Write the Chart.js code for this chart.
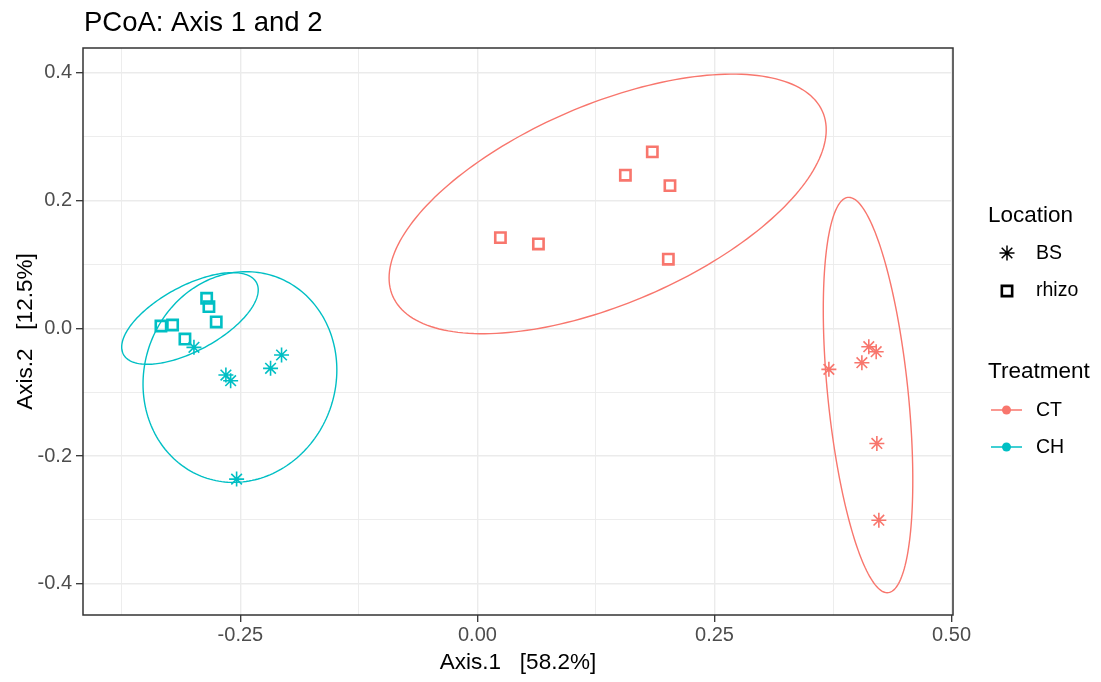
<!DOCTYPE html>
<html>
<head>
<meta charset="utf-8">
<script src="https://cdn.jsdelivr.net/npm/chart.js@4.4.1/dist/chart.umd.min.js"></script>
<style>
    html, body { margin: 0; padding: 0; background: #ffffff; }
    #wrap { position: relative; width: 1101px; height: 682px; }
</style>
</head>
<body>
<div id="wrap"><canvas id="pcoa-chart"></canvas></div>
<script>
// Point coordinates (Axis.1, Axis.2)
const ctBsX = [0.3706, 0.4127, 0.4205, 0.4054, 0.4212, 0.4233];
const ctBsY = [-0.0643, -0.0288, -0.0367, -0.0539, -0.1803, -0.3005];
const ctRhizoX = [0.1844, 0.1560, 0.2030, 0.0242, 0.0643, 0.2013];
const ctRhizoY = [0.2763, 0.2398, 0.2235, 0.1420, 0.1321, 0.1082];
const chBsX = [-0.2990, -0.2653, -0.2603, -0.2182, -0.2066, -0.2540];
const chBsY = [-0.0298, -0.0732, -0.0821, -0.0627, -0.0418, -0.2362];
const chRhizoX = [-0.3338, -0.3215, -0.3085, -0.2856, -0.2832, -0.2755];
const chRhizoY = [0.0036, 0.0052, -0.0168, 0.0470, 0.0339, 0.0099];

// Ellipses: centre, half extent in x and y, and y offset at the x extreme
const ellipseNames = ['CT BS', 'CT rhizo', 'CH BS', 'CH rhizo'];
const ellipseCx = [0.4119, 0.1373, -0.2505, -0.3032];
const ellipseCy = [-0.1045, 0.1948, -0.0763, 0.0154];
const ellipseHx = [0.0472, 0.2305, 0.1022, 0.0720];
const ellipseHy = [0.3096, 0.2033, 0.1650, 0.0718];
const ellipseTilt = [-0.1332, 0.1160, 0.0110, 0.0447];

// Ticks
const xMajor = [-0.25, 0, 0.25, 0.5];
const xMajorLabels = ['-0.25', '0.00', '0.25', '0.50'];
const xMinor = [-0.375, -0.125, 0.125, 0.375];
const yMajor = [-0.4, -0.2, 0, 0.2, 0.4];
const yMajorLabels = ['-0.4', '-0.2', '0.0', '0.2', '0.4'];
const yMinor = [-0.3, -0.1, 0.1, 0.3];

const colCT = '#F8766D';
const colCH = '#00BFC4';
const FONT = '"Liberation Sans", Arial, sans-serif';

function zip(xs, ys) {
    return xs.map(function(x, i) { return { x: x, y: ys[i] }; });
}

function majorIndex(value, majors) {
    for (let i = 0; i < majors.length; i++) {
        if (Math.abs(majors[i] - value) < 1e-9) return i;
    }
    return -1;
}

function setTicks(majors, minors) {
    return function(scale) {
        scale.ticks = majors.concat(minors)
            .sort(function(a, b) { return a - b; })
            .map(function(v) { return { value: v }; });
    };
}

function gridOptions(majors) {
    return {
        color: '#EBEBEB',
        lineWidth: function(c) { return majorIndex(c.tick.value, majors) >= 0 ? 1.4 : 0.9; },
        drawTicks: true,
        tickLength: 7,
        tickWidth: 1.3,
        tickColor: function(c) { return majorIndex(c.tick.value, majors) >= 0 ? '#333333' : 'rgba(0,0,0,0)'; }
    };
}

// Ellipses drawn through the chart scales, under the points
const ellipsePlugin = {
    id: 'ellipses',
    beforeDatasetsDraw: function(chart) {
        const ctx = chart.ctx;
        const xs = chart.scales.x;
        const ys = chart.scales.y;
        const area = chart.chartArea;
        ctx.save();
        ctx.beginPath();
        ctx.rect(area.left, area.top, area.right - area.left, area.bottom - area.top);
        ctx.clip();
        ellipseNames.forEach(function(name, i) {
            const by = Math.sqrt(ellipseHy[i] * ellipseHy[i] - ellipseTilt[i] * ellipseTilt[i]);
            ctx.beginPath();
            for (let s = 0; s <= 200; s++) {
                const t = s / 200 * Math.PI * 2;
                const vx = ellipseCx[i] + ellipseHx[i] * Math.cos(t);
                const vy = ellipseCy[i] + ellipseTilt[i] * Math.cos(t) + by * Math.sin(t);
                const px = xs.getPixelForValue(vx);
                const py = ys.getPixelForValue(vy);
                if (s === 0) ctx.moveTo(px, py); else ctx.lineTo(px, py);
            }
            ctx.closePath();
            ctx.strokeStyle = name.indexOf('CT') === 0 ? colCT : colCH;
            ctx.lineWidth = 1.4;
            ctx.stroke();
        });
        ctx.restore();
    }
};

// Panel border, title and the two legend groups
const framePlugin = {
    id: 'frame',
    afterDraw: function(chart) {
        const ctx = chart.ctx;
        const a = chart.chartArea;
        ctx.save();
        ctx.strokeStyle = '#333333';
        ctx.lineWidth = 1.5;
        ctx.strokeRect(a.left, a.top, a.right - a.left, a.bottom - a.top);

        ctx.fillStyle = '#000000';
        ctx.textAlign = 'left';
        ctx.textBaseline = 'alphabetic';
        ctx.font = '27.5px ' + FONT;
        ctx.fillText('PCoA: Axis 1 and 2', 84, 31);

        ctx.font = '22.5px ' + FONT;
        ctx.fillText('Location', 988, 222);
        ctx.fillText('Treatment', 988, 378);

        ctx.font = '19.5px ' + FONT;
        ctx.textBaseline = 'middle';
        ctx.fillText('BS', 1036, 254);
        ctx.fillText('rhizo', 1036, 291);
        ctx.fillText('CT', 1036, 411);
        ctx.fillText('CH', 1036, 448);

        ctx.strokeStyle = '#000000';
        ctx.fillStyle = 'rgba(0,0,0,0)';
        Chart.helpers.drawPoint(ctx, { pointStyle: 'star', radius: 7.5, borderWidth: 1.6, rotation: 0 }, 1007, 253);
        ctx.lineWidth = 2.6;
        Chart.helpers.drawPoint(ctx, { pointStyle: 'rect', radius: 7.3, borderWidth: 2.6, rotation: 0 }, 1007, 291);

        [[colCT, 410], [colCH, 447]].forEach(function(item) {
            ctx.strokeStyle = item[0];
            ctx.fillStyle = item[0];
            ctx.lineWidth = 1.5;
            ctx.beginPath();
            ctx.moveTo(991, item[1]);
            ctx.lineTo(1022, item[1]);
            ctx.stroke();
            ctx.beginPath();
            ctx.arc(1006.5, item[1], 4.5, 0, Math.PI * 2);
            ctx.fill();
        });
        ctx.restore();
    }
};

function starSet(label, xs, ys, color) {
    return {
        label: label,
        data: zip(xs, ys),
        pointStyle: 'star',
        pointRadius: 7.5,
        borderWidth: 1.6,
        borderColor: color,
        backgroundColor: color
    };
}

function squareSet(label, xs, ys, color) {
    return {
        label: label,
        data: zip(xs, ys),
        pointStyle: 'rect',
        pointRadius: 7.3,
        borderWidth: 2.6,
        borderColor: color,
        backgroundColor: 'rgba(0,0,0,0)'
    };
}

const ctx = document.getElementById('pcoa-chart').getContext('2d');
const pcoaChart = new Chart(ctx, {
    type: 'scatter',
    data: {
        datasets: [
            squareSet('CT rhizo', ctRhizoX, ctRhizoY, colCT),
            starSet('CT BS', ctBsX, ctBsY, colCT),
            squareSet('CH rhizo', chRhizoX, chRhizoY, colCH),
            starSet('CH BS', chBsX, chBsY, colCH)
        ]
    },
    options: {
        responsive: true,
        maintainAspectRatio: false,
        animation: false,
        events: [],
        layout: {
            padding: { left: 0, top: 48, right: 148, bottom: 0 }
        },
        plugins: {
            legend: { display: false },
            tooltip: { enabled: false },
            title: { display: false }
        },
        scales: {
            x: {
                type: 'linear',
                min: -0.416,
                max: 0.5015,
                afterBuildTicks: setTicks(xMajor, xMinor),
                afterFit: function(scale) { scale.height = 67; },
                grid: gridOptions(xMajor),
                border: { display: false },
                ticks: {
                    autoSkip: false,
                    maxRotation: 0,
                    padding: 1,
                    color: '#4D4D4D',
                    font: { family: FONT, size: 20 },
                    callback: function(value) {
                        const i = majorIndex(value, xMajor);
                        return i >= 0 ? xMajorLabels[i] : '';
                    }
                },
                title: {
                    display: true,
                    text: 'Axis.1   [58.2%]',
                    color: '#000000',
                    font: { family: FONT, size: 22.5 },
                    padding: { top: 0, bottom: 6 }
                }
            },
            y: {
                type: 'linear',
                min: -0.449,
                max: 0.439,
                afterBuildTicks: setTicks(yMajor, yMinor),
                afterFit: function(scale) { scale.width = 83; },
                grid: gridOptions(yMajor),
                border: { display: false },
                ticks: {
                    autoSkip: false,
                    padding: 4,
                    color: '#4D4D4D',
                    font: { family: FONT, size: 20 },
                    callback: function(value) {
                        const i = majorIndex(value, yMajor);
                        return i >= 0 ? yMajorLabels[i] : '';
                    }
                },
                title: {
                    display: true,
                    text: 'Axis.2   [12.5%]',
                    color: '#000000',
                    font: { family: FONT, size: 22.5 },
                    padding: { top: 12, bottom: 0 }
                }
            }
        }
    },
    plugins: [ellipsePlugin, framePlugin]
});
</script>
</body>
</html>
